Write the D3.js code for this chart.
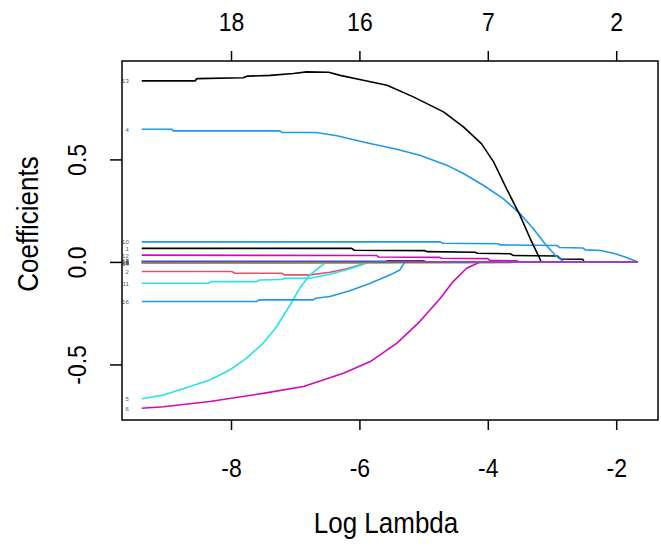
<!DOCTYPE html>
<html><head><meta charset="utf-8">
<script src="https://cdn.jsdelivr.net/npm/d3@7"></script>
<style>body{margin:0;background:#fff}svg{display:block}text{font-family:"Liberation Sans",Arial,sans-serif}</style>
</head><body>
<script>
// Coefficient paths: [log lambda, coefficient]
const v1  = [[-9.39,0.066],[-6.12,0.066],[-6.08,0.057],[-4.98,0.055],[-4.94,0.05],[-4.2,0.047],[-4.16,0.042],[-3.65,0.04],[-3.6,0.031],[-2.92,0.029],[-2.86,0.014],[-2.52,0.013],[-2.5,0]];
const v2  = [[-9.39,-0.047],[-7.99,-0.047],[-7.94,-0.055],[-7.21,-0.055],[-7.17,-0.063],[-6.77,-0.063],[-6.46,-0.05],[-6.2,-0.033],[-5.94,-0.01],[-5.86,0]];
const v3  = [[-9.39,-0.005],[-3.65,-0.004],[-3.6,0]];
const v4  = [[-9.39,0.647],[-8.92,0.647],[-8.9,0.639],[-7.24,0.639],[-7.2,0.631],[-6.67,0.631],[-6.35,0.615],[-5.94,0.585],[-5.42,0.55],[-5.06,0.52],[-4.64,0.472],[-4.38,0.431],[-4.07,0.374],[-3.76,0.309],[-3.5,0.236],[-3.29,0.162],[-3.11,0.089],[-2.95,0.033],[-2.82,0]];
const v5  = [[-9.39,-0.667],[-9.05,-0.649],[-8.64,-0.608],[-8.33,-0.576],[-8.02,-0.527],[-7.76,-0.47],[-7.5,-0.397],[-7.29,-0.316],[-7.08,-0.21],[-6.93,-0.128],[-6.77,-0.063],[-6.61,-0.023],[-6.51,0]];
const v6  = [[-9.39,-0.714],[-9.05,-0.706],[-8.33,-0.681],[-7.5,-0.641],[-6.87,-0.608],[-6.25,-0.543],[-5.83,-0.486],[-5.42,-0.397],[-5.06,-0.291],[-4.74,-0.177],[-4.54,-0.096],[-4.33,-0.031],[-4.12,0]];
const v7  = [[-9.39,0.005],[-5.0,0.004],[-4.95,0]];
const v8  = [[-9.39,-0.003],[-6.6,-0.002],[-6.55,0]];
const v9  = [[-9.39,-0.003],[-3.9,-0.003],[-3.85,0]];
const v10 = [[-9.39,0.098],[-4.74,0.098],[-4.7,0.091],[-3.84,0.089],[-3.8,0.083],[-2.92,0.08],[-2.88,0.07],[-2.52,0.068],[-2.48,0.059],[-2.25,0.056],[-2.04,0.042],[-1.85,0.023],[-1.66,0]];
const v11 = [[-9.39,-0.104],[-8.35,-0.104],[-8.31,-0.096],[-7.6,-0.096],[-7.56,-0.088],[-7.21,-0.086],[-7.17,-0.08],[-6.77,-0.08],[-6.46,-0.06],[-6.2,-0.038],[-5.94,-0.012],[-5.86,0]];
const v12 = [[-9.39,0.033],[-5.73,0.031],[-5.7,0.024],[-4.75,0.022],[-4.72,0.018],[-4.0,0.016],[-3.97,0.008],[-3.55,0.005],[-3.5,0]];
const v13 = [[-9.39,0.883],[-8.56,0.883],[-8.53,0.894],[-7.81,0.898],[-7.75,0.906],[-7.39,0.91],[-7.03,0.919],[-6.82,0.927],[-6.48,0.925],[-6.3,0.91],[-5.94,0.886],[-5.57,0.862],[-5.16,0.805],[-4.69,0.732],[-4.38,0.659],[-4.1,0.577],[-3.91,0.488],[-3.71,0.358],[-3.5,0.228],[-3.34,0.114],[-3.19,0.016],[-3.17,0]];
const v14 = [[-9.39,-0.006],[-5.9,-0.004],[-5.85,0]];
const v15 = [[-9.39,-0.004],[-5.5,-0.004],[-5.45,0]];
const v16 = [[-9.39,-0.193],[-7.6,-0.193],[-7.56,-0.185],[-6.72,-0.185],[-6.68,-0.177],[-6.46,-0.169],[-6.15,-0.141],[-5.83,-0.104],[-5.52,-0.063],[-5.37,-0.039],[-5.29,0]];
const v17 = [[-9.39,0.006],[-5.6,0.005],[-5.55,0]];
const v18 = [[-9.39,0.001],[-5.8,0.001],[-5.75,0]];
const paths = [v1,v2,v3,v4,v5,v6,v7,v8,v9,v10,v11,v12,v13,v14,v15,v16,v17,v18];
const varLabels = ["1","2","3","4","5","6","7","8","9","10","11","12","13","14","15","16","17","18"];
const palette = ["#000000","#DF536B","#61D04F","#2297E6","#28E2E5","#CD0BBC"];
const xTicks = [-8,-6,-4,-2];
const xTickLabels = ["-8","-6","-4","-2"];
const topTickLabels = ["18","16","7","2"];
const yTicks = [-0.5,0,0.5];
const yTickLabels = ["-0.5","0.0","0.5"];
const lambdaEnd = -1.66;

const W=661,H=551;
const L=122,R=658,T=61,B=420;
const FS=23, TFS=26, ST=1.15;
const svg=d3.select("body").append("svg").attr("width",W).attr("height",H);
const x=d3.scaleLinear().domain([-9.698,-1.349]).range([L,R]);
const y=d3.scaleLinear().domain([-0.771,0.98]).range([B,T]);

const line=d3.line().x(d=>x(d[0])).y(d=>y(d[1]));
const g=svg.append("g");
paths.forEach((p,i)=>{
  const pts=p.slice();
  if(pts[pts.length-1][0]<lambdaEnd) pts.push([lambdaEnd,0]);
  g.append("path").attr("d",line(pts)).attr("fill","none")
   .attr("stroke",palette[i%6]).attr("stroke-width",1.6).attr("stroke-linejoin","round");
});
// variable labels at left (tiny, as in plot.glmnet label=TRUE)
paths.forEach((p,i)=>{
  svg.append("text").attr("x",x(p[0][0])-13).attr("y",y(p[0][1])+2.5)
   .attr("text-anchor","end").attr("font-size",6).attr("fill","#555").text(varLabels[i]);
});

// box
svg.append("rect").attr("x",L).attr("y",T).attr("width",R-L).attr("height",B-T)
  .attr("fill","none").attr("stroke","#000").attr("stroke-width",1.5);

// bottom axis
const bax=svg.append("g").attr("transform",`translate(0,${B})`)
  .call(d3.axisBottom(x).tickValues(xTicks).tickSize(10).tickFormat((d,i)=>xTickLabels[i]));
bax.select(".domain").remove();
bax.selectAll("line").attr("stroke-width",1.5);
bax.selectAll("text").attr("font-size",FS).attr("dy",0).attr("y",0)
  .attr("transform",`translate(0,57) scale(1,${ST})`);
// top axis
const tax=svg.append("g").attr("transform",`translate(0,${T})`)
  .call(d3.axisTop(x).tickValues(xTicks).tickSize(10).tickFormat((d,i)=>topTickLabels[i]));
tax.select(".domain").remove();
tax.selectAll("line").attr("stroke-width",1.5);
tax.selectAll("text").attr("font-size",FS).attr("dy",0).attr("y",0)
  .attr("transform",`translate(0,-30) scale(1,${ST})`);
// left axis
const lax=svg.append("g").attr("transform",`translate(${L},0)`)
  .call(d3.axisLeft(y).tickValues(yTicks).tickSize(12).tickFormat((d,i)=>yTickLabels[i]));
lax.select(".domain").remove();
lax.selectAll("line").attr("stroke-width",1.5);
lax.selectAll("text").attr("font-size",FS).attr("text-anchor","middle").attr("x",0).attr("dy",0).attr("y",0)
  .attr("transform",`translate(-36,0) scale(${ST},1) rotate(-90)`);

svg.append("text").attr("transform",`translate(${(L+R)/2-4},533) scale(1,${ST})`)
  .attr("text-anchor","middle").attr("font-size",TFS).text("Log Lambda");
svg.append("text").attr("transform",`translate(38,224) scale(${ST},1) rotate(-90)`)
  .attr("text-anchor","middle").attr("font-size",TFS).text("Coefficients");
</script>
</body></html>
